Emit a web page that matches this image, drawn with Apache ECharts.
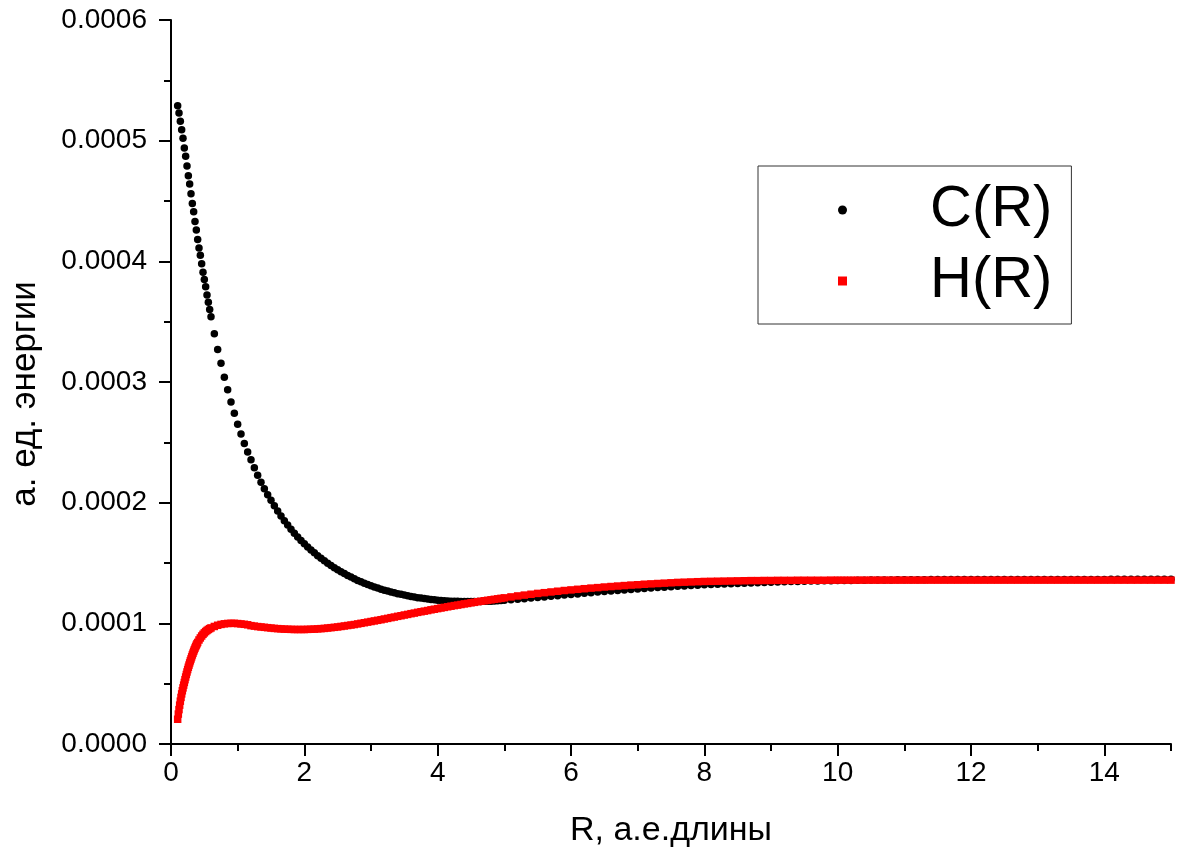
<!DOCTYPE html>
<html><head><meta charset="utf-8">
<script src="https://cdn.jsdelivr.net/npm/echarts@6/dist/echarts.min.js"></script>
<style>html,body{margin:0;padding:0;background:#fff}#c{width:1179px;height:854px}</style>
</head><body><div id="c"></div>
<script>
// R grid for C(R) (a.u. of length)
const R = [
  0.10,0.12,0.14,0.16,0.18,0.20,0.22,0.24,0.26,0.28,0.30,0.32,0.34,0.36,0.38,0.40,0.42,0.44,0.46,0.48,0.50,0.52,0.54,0.56,0.58,0.60,
  0.65,0.70,0.75,0.80,0.85,0.90,0.95,1.00,1.05,1.10,1.15,1.20,1.25,
  1.30,1.35,1.40,1.45,1.50,1.55,1.60,1.65,1.70,1.75,1.80,1.85,1.90,1.95,2.00,
  2.05,2.10,2.15,2.20,2.25,2.30,2.35,2.40,2.45,2.50,2.55,2.60,2.65,2.70,2.75,2.80,2.85,2.90,2.95,3.00,
  3.05,3.10,3.15,3.20,3.25,3.30,3.35,3.40,3.45,3.50,3.55,3.60,3.65,3.70,3.75,3.80,3.85,3.90,3.95,4.00,
  4.05,4.10,4.15,4.20,4.25,4.30,4.35,4.40,4.45,4.50,4.55,4.60,4.65,4.70,4.75,4.80,4.85,4.90,4.95,5.00,
  5.1,5.2,5.3,5.4,5.5,5.6,5.7,5.8,5.9,6.0,
  6.1,6.2,6.3,6.4,6.5,6.6,6.7,6.8,6.9,7.0,
  7.1,7.2,7.3,7.4,7.5,7.6,7.7,7.8,7.9,8.0,
  8.1,8.2,8.3,8.4,8.5,8.6,8.7,8.8,8.9,9.0,
  9.1,9.2,9.3,9.4,9.5,9.6,9.7,9.8,9.9,10.0,
  10.1,10.2,10.3,10.4,10.5,10.6,10.7,10.8,10.9,11.0,
  11.1,11.2,11.3,11.4,11.5,11.6,11.7,11.8,11.9,12.0,
  12.1,12.2,12.3,12.4,12.5,12.6,12.7,12.8,12.9,13.0,
  13.1,13.2,13.3,13.4,13.5,13.6,13.7,13.8,13.9,14.0,
  14.1,14.2,14.3,14.4,14.5,14.6,14.7,14.8,14.9,15.0
];
// C(R), in units of 1e-4 a.u. of energy
const C_R = [
  5.29,5.23,5.16,5.09,5.02,4.94,4.87,4.79,4.71,4.64,4.56,4.48,4.41,4.33,4.26,4.18,4.11,4.05,3.98,3.91,3.85,3.79,3.72,3.66,3.60,3.54,
  3.40,3.27,3.155,3.04,2.935,2.835,2.74,2.65,2.57,2.49,2.42,2.355,2.29,
  2.228,2.170,2.116,2.066,2.019,1.974,1.931,1.890,1.851,1.814,1.779,1.746,1.715,1.686,1.659,
  1.633,1.608,1.584,1.561,1.539,1.518,1.498,1.479,1.461,1.444,1.428,1.412,1.397,1.383,1.369,1.356,1.344,1.332,1.321,1.311,
  1.301,1.292,1.283,1.275,1.267,1.260,1.253,1.246,1.240,1.234,1.228,1.223,1.218,1.213,1.209,1.205,1.201,1.198,1.195,1.192,
  1.190,1.188,1.186,1.184,1.183,1.182,1.181,1.180,1.180,1.180,1.180,1.180,1.181,1.182,1.183,1.184,1.186,1.187,1.189,1.191,
  1.195,1.199,1.204,1.209,1.214,1.219,1.224,1.229,1.234,1.239,
  1.244,1.249,1.254,1.259,1.264,1.268,1.273,1.277,1.281,1.285,
  1.289,1.293,1.297,1.300,1.304,1.307,1.310,1.313,1.316,1.319,
  1.322,1.324,1.327,1.329,1.331,1.333,1.335,1.337,1.339,1.341,
  1.343,1.344,1.346,1.347,1.349,1.350,1.351,1.352,1.353,1.354,
  1.355,1.356,1.357,1.358,1.359,1.359,1.360,1.360,1.361,1.361,
  1.362,1.362,1.362,1.363,1.363,1.363,1.363,1.364,1.364,1.364,
  1.364,1.364,1.364,1.364,1.364,1.364,1.364,1.364,1.364,1.364,
  1.364,1.364,1.364,1.364,1.364,1.364,1.364,1.364,1.364,1.364,
  1.365,1.365,1.365,1.365,1.365,1.365,1.365,1.365,1.365,1.365
];
// R grid for H(R): finer at small R
const R_H = [
  0.10,0.11,0.12,0.13,0.14,0.15,0.16,0.17,0.18,0.19,0.20,0.21,0.22,0.23,0.24,0.25,0.26,0.27,0.28,0.29,0.30,
  0.31,0.32,0.33,0.34,0.35,0.36,0.37,0.38,0.39,0.40,
  0.42,0.44,0.46,0.48,0.50,0.52,0.54,0.56,0.58,0.60,
  0.65,0.70,0.75,0.80,0.85,0.90,0.95,1.00,1.05,1.10,1.15,1.20,1.25,
  1.30,1.35,1.40,1.45,1.50,1.55,1.60,1.65,1.70,1.75,1.80,1.85,1.90,1.95,2.00,
  2.05,2.10,2.15,2.20,2.25,2.30,2.35,2.40,2.45,2.50,2.55,2.60,2.65,2.70,2.75,2.80,2.85,2.90,2.95,3.00,
  3.05,3.10,3.15,3.20,3.25,3.30,3.35,3.40,3.45,3.50,3.55,3.60,3.65,3.70,3.75,3.80,3.85,3.90,3.95,4.00,
  4.05,4.10,4.15,4.20,4.25,4.30,4.35,4.40,4.45,4.50,4.55,4.60,4.65,4.70,4.75,4.80,4.85,4.90,4.95,5.00,
  5.1,5.2,5.3,5.4,5.5,5.6,5.7,5.8,5.9,6.0,
  6.1,6.2,6.3,6.4,6.5,6.6,6.7,6.8,6.9,7.0,
  7.1,7.2,7.3,7.4,7.5,7.6,7.7,7.8,7.9,8.0,
  8.1,8.2,8.3,8.4,8.5,8.6,8.7,8.8,8.9,9.0,
  9.1,9.2,9.3,9.4,9.5,9.6,9.7,9.8,9.9,10.0,
  10.1,10.2,10.3,10.4,10.5,10.6,10.7,10.8,10.9,11.0,
  11.1,11.2,11.3,11.4,11.5,11.6,11.7,11.8,11.9,12.0,
  12.1,12.2,12.3,12.4,12.5,12.6,12.7,12.8,12.9,13.0,
  13.1,13.2,13.3,13.4,13.5,13.6,13.7,13.8,13.9,14.0,
  14.1,14.2,14.3,14.4,14.5,14.6,14.7,14.8,14.9,15.0
];
// H(R), in units of 1e-4 a.u. of energy
const H_R = [
  0.205,0.248,0.285,0.322,0.355,0.386,0.415,0.441,0.465,0.488,0.510,0.533,0.555,0.576,0.597,0.617,0.636,0.654,0.672,0.689,0.705,
  0.722,0.738,0.753,0.768,0.782,0.795,0.808,0.820,0.831,0.842,
  0.862,0.879,0.895,0.909,0.921,0.932,0.941,0.949,0.956,0.962,
  0.974,0.984,0.991,0.996,0.999,1.000,1.000,0.998,0.995,0.992,0.988,0.981,0.977,
  0.973,0.970,0.967,0.964,0.961,0.958,0.956,0.954,0.952,0.951,0.950,0.949,0.949,0.949,0.949,
  0.950,0.951,0.952,0.954,0.956,0.958,0.961,0.964,0.967,0.970,0.974,0.978,0.982,0.986,0.990,0.995,1.000,1.005,1.010,1.015,
  1.020,1.025,1.030,1.036,1.041,1.047,1.052,1.058,1.063,1.069,1.074,1.080,1.085,1.091,1.096,1.101,1.106,1.112,1.117,1.122,
  1.127,1.132,1.137,1.142,1.147,1.151,1.156,1.161,1.165,1.170,1.174,1.179,1.183,1.187,1.191,1.195,1.199,1.203,1.207,1.211,
  1.219,1.227,1.234,1.241,1.248,1.254,1.260,1.266,1.272,1.277,
  1.282,1.287,1.292,1.296,1.301,1.305,1.309,1.313,1.317,1.320,
  1.324,1.327,1.330,1.333,1.336,1.339,1.341,1.343,1.345,1.347,
  1.348,1.349,1.350,1.351,1.352,1.353,1.354,1.354,1.355,1.355,
  1.356,1.356,1.356,1.357,1.357,1.357,1.357,1.357,1.358,1.358,
  1.358,1.358,1.358,1.358,1.358,1.358,1.358,1.358,1.358,1.358,
  1.358,1.358,1.358,1.358,1.358,1.358,1.358,1.358,1.358,1.358,
  1.358,1.358,1.358,1.358,1.358,1.358,1.358,1.358,1.358,1.358,
  1.358,1.358,1.358,1.358,1.358,1.358,1.358,1.358,1.358,1.358,
  1.358,1.358,1.358,1.358,1.358,1.358,1.358,1.358,1.358,1.358
];
const xMajor = [0,2,4,6,8,10,12,14];
const seriesNames = ['C(R)','H(R)'];
const xTitle = 'R, а.е.длины';
const yTitle = 'а. ед. энергии';

const FONT = "'Liberation Sans', Arial, sans-serif";
const chart = echarts.init(document.getElementById('c'), null, {renderer:'canvas'});
const axisLine = {show:true, lineStyle:{color:'#000', width:2}};
chart.setOption({
  animation:false,
  backgroundColor:'#fff',
  grid:{left:170, right:8, top:20, bottom:110, containLabel:false},
  legend:{
    orient:'vertical', left:758, top:166,
    padding:[15,19,14,80], itemGap:13,
    itemWidth:9, itemHeight:9,
    borderColor:'#333', borderWidth:1,
    data:[{name:seriesNames[0], icon:'circle'},{name:seriesNames[1], icon:'rect'}],
    formatter: n => '{t|' + n + '}',
    textStyle:{color:'#000', fontFamily:FONT, fontSize:58,
      rich:{t:{fontSize:58, fontFamily:FONT, color:'#000', lineHeight:60, padding:[0,0,0,78]}}}
  },
  xAxis:[
    {type:'value', min:0, max:15, interval:1, position:'bottom',
     axisLine:axisLine, axisTick:{show:true, length:7, lineStyle:{color:'#000', width:2}},
     axisLabel:{show:false}, splitLine:{show:false}},
    {type:'value', min:0, max:15, interval:2, position:'bottom',
     axisLine:{show:false},
     axisTick:{show:true, length:12, customValues:xMajor, lineStyle:{color:'#000', width:2}},
     axisLabel:{show:true, customValues:xMajor, margin:15, color:'#000', fontSize:28, fontFamily:FONT},
     splitLine:{show:false},
     name:xTitle, nameLocation:'middle', nameGap:70,
     nameTextStyle:{color:'#000', fontSize:34, fontFamily:FONT}}
  ],
  yAxis:{type:'value', min:0, max:6, interval:1,
    axisLine:axisLine,
    axisTick:{show:true, length:12, lineStyle:{color:'#000', width:2}},
    minorTick:{show:true, splitNumber:2, length:7, lineStyle:{color:'#000', width:2}},
    axisLabel:{margin:24, color:'#000', fontSize:28, fontFamily:FONT,
      formatter: v => (v/10000).toFixed(4)},
    splitLine:{show:false},
    name:yTitle, nameLocation:'middle', nameRotate:90, nameGap:128,
    nameTextStyle:{color:'#000', fontSize:35, fontFamily:FONT, padding:[0,24,0,0]}},
  series:[
    {name:seriesNames[0], type:'scatter', xAxisIndex:0, symbol:'circle', symbolSize:7.5,
     itemStyle:{color:'#000', opacity:1}, silent:true,
     data: R.map((r,i)=>[r, C_R[i]])},
    {name:seriesNames[1], type:'scatter', xAxisIndex:0, symbol:'rect', symbolSize:7.5,
     itemStyle:{color:'#ff0000', opacity:1}, silent:true,
     data: R_H.map((r,i)=>[r, H_R[i]])}
  ]
});
</script></body></html>
